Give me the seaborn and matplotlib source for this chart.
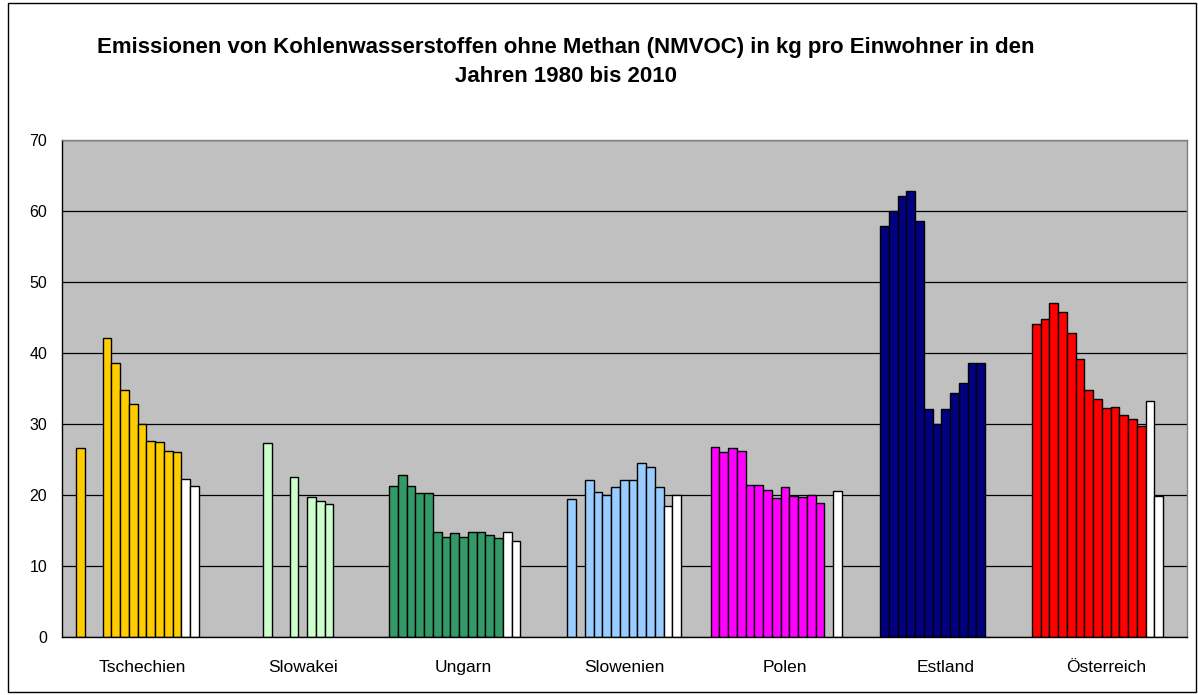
import numpy as np
import pandas as pd
import matplotlib.pyplot as plt
import seaborn as sns
from matplotlib.patches import Rectangle

# Daten (kg pro Einwohner), None = kein Balken
laender = ['Tschechien', 'Slowakei', 'Ungarn', 'Slowenien', 'Polen', 'Estland', 'Österreich']
reihen = ['R01', 'R02', 'R03', 'R04', 'R05', 'R06', 'R07', 'R08', 'R09',
          'R10', 'R11', 'R12', 'R13', 'R14', 'R15', 'R16', 'R17']
n = None
tschechien = [n, 26.6, n, n, 42.2, 38.7, 34.8, 32.8, 30.1, 27.7, 27.5, 26.3, 26.1, 22.3, 21.3, n, n]
slowakei = [n, n, n, n, 27.4, n, n, 22.6, n, 19.8, 19.2, 18.8, n, n, n, n, n]
ungarn = [21.3, 22.9, 21.3, 20.3, 20.3, 14.9, 14.1, 14.7, 14.1, 14.9, 14.9, 14.4, 14.0, 14.9, 13.6, n, n]
slowenien = [n, n, 19.5, n, 22.1, 20.5, 20.0, 21.1, 22.1, 22.1, 24.5, 24.0, 21.1, 18.5, 20.0, n, n]
polen = [26.8, 26.1, 26.6, 26.3, 21.5, 21.5, 20.8, 19.6, 21.2, 19.9, 19.8, 20.0, 18.9, n, 20.6, n, n]
estland = [n, 57.9, 60.0, 62.2, 62.9, 58.6, 32.2, 30.0, 32.2, 34.4, 35.8, 38.7, 38.7, n, n, n, n]
oesterreich = [44.1, 44.8, 47.1, 45.8, 42.9, 39.2, 34.9, 33.6, 32.3, 32.4, 31.3, 30.8, 29.8, 33.3, 19.9, n, n]

farben = ['#FFCC00', '#CCFFCC', '#339966', '#99CCFF', '#FF00FF', '#000080', '#FF0000']
weisse_reihen = ['R14', 'R15']   # letzte zwei Reihen weiss

werte = [tschechien, slowakei, ungarn, slowenien, polen, estland, oesterreich]
zeilen = []
for land, liste in zip(laender, werte):
    for r, w in zip(reihen, liste):
        zeilen.append({'Land': land, 'Reihe': r, 'Wert': np.nan if w is None else w})
df = pd.DataFrame(zeilen)

sns.set_style('white')
plt.rcParams['font.family'] = ['Liberation Sans', 'DejaVu Sans']
plt.rcParams['text.color'] = 'black'
plt.rcParams['xtick.color'] = 'black'
plt.rcParams['ytick.color'] = 'black'

fig = plt.figure(figsize=(11.98, 6.95), dpi=100)
ax = fig.add_axes([61.7 / 1198, 1 - 637.3 / 695, 1125 / 1198, 497 / 695])

breite = 0.9256
sns.barplot(data=df, x='Land', y='Wert', hue='Reihe', order=laender, hue_order=reihen,
            width=breite, dodge=True, errorbar=None, palette=['#ffffff'] * len(reihen),
            saturation=1, edgecolor='black', linewidth=1.0, legend=False, ax=ax)

# Farben nach Land, die letzten zwei Reihen weiss
bw = breite / len(reihen)
weiss_idx = [reihen.index(r) for r in weisse_reihen]
for bar in ax.patches:
    xc = bar.get_x() + bar.get_width() / 2
    c = int(round(xc))
    p = int((xc - c + breite / 2) // bw)
    bar.set_facecolor('white' if p in weiss_idx else farben[c])

ax.set_xlim(-0.5, 6.5)
ax.set_ylim(0, 70)
ax.set_yticks(range(0, 71, 10))
ax.set_xticks(range(len(laender)))
ax.set_xticklabels(laender)
ax.set_xticks(np.arange(-0.5, 7, 1), minor=True)
ax.tick_params(axis='x', which='major', length=0, pad=16, labelsize=12.5)
ax.tick_params(axis='x', which='minor', length=4, direction='out', color='black', width=1)
ax.tick_params(axis='y', length=4, direction='out', color='black', width=1, pad=6.5, labelsize=11.5)
ax.set_xlabel('')
ax.set_ylabel('')

ax.set_facecolor('#C0C0C0')
ax.yaxis.grid(True, color='black', linewidth=0.9)
ax.set_axisbelow(True)
for s in ['left', 'bottom']:
    ax.spines[s].set_color('black')
    ax.spines[s].set_linewidth(1)
for s in ['top', 'right']:
    ax.spines[s].set_color('#808080')
    ax.spines[s].set_linewidth(1)

fig.text(566 / 1198, 1 - 62 / 695,
         'Emissionen von Kohlenwasserstoffen ohne Methan (NMVOC) in kg pro Einwohner in den\nJahren 1980 bis 2010',
         ha='center', va='center', multialignment='center', fontsize=16,
         fontweight='bold', linespacing=1.5)

# Rahmen um die ganze Grafik
fig.patches.append(Rectangle((8 / 1198, 3 / 695), 1188 / 1198, 689 / 695,
                             transform=fig.transFigure, fill=False,
                             edgecolor='black', linewidth=1))

fig.savefig('out.png', dpi=100)
